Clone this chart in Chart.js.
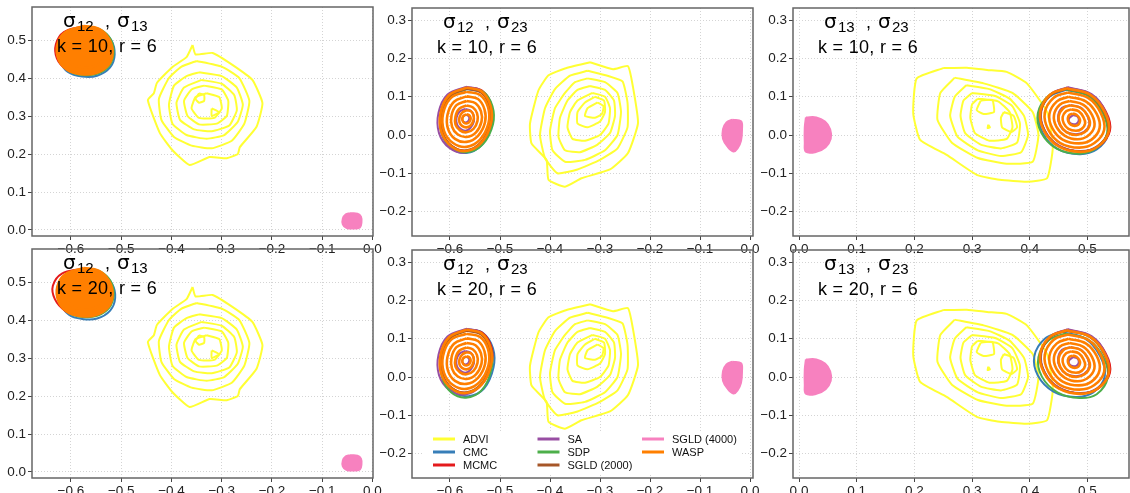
<!DOCTYPE html>
<html>
<head>
<meta charset="utf-8">
<script src="https://cdn.jsdelivr.net/npm/chart.js@4.4.1/dist/chart.umd.min.js"></script>
<style>
  html, body { margin: 0; padding: 0; background: #fff; width: 1130px; height: 493px; overflow: hidden; }
  canvas { position: absolute; }
</style>
</head>
<body>
<canvas id="p0"></canvas>
<canvas id="p1"></canvas>
<canvas id="p2"></canvas>
<canvas id="p3"></canvas>
<canvas id="p4"></canvas>
<canvas id="p5"></canvas>
<script>
// series (draw order: ADVI first, WASP on top)
const methods = ['ADVI', 'CMC', 'MCMC', 'SA', 'SDP', 'SGLD (2000)', 'SGLD (4000)', 'WASP'];
const methodColors = ['#FFFF33', '#377EB8', '#E41A1C', '#984EA3', '#4DAF4A', '#A65628', '#F781BF', '#FF7F00'];

const pairLabels = [['12', '13'], ['12', '23'], ['13', '23']];
const kValues = [10, 20];
const rValue = 6;

// axis ranges per column
const xRanges = [[-0.6775, 0.001], [-0.676, 0.006], [-0.0104, 0.572]];
const yRanges = [[-0.0158, 0.587], [-0.264, 0.332], [-0.264, 0.332]];

// ---------- sigma12 , sigma13 ----------
const advi1213 = [
  [[-0.358,0.487],[-0.352,0.462],[-0.318,0.466],[-0.278,0.434],[-0.239,0.395],[-0.219,0.334],[-0.231,0.271],[-0.264,0.218],[-0.268,0.2],[-0.29,0.189],[-0.324,0.192],[-0.364,0.171],[-0.398,0.21],[-0.423,0.255],[-0.447,0.342],[-0.435,0.36],[-0.429,0.387],[-0.398,0.429],[-0.37,0.455]],
  [[-0.35,0.445],[-0.3,0.43],[-0.265,0.4],[-0.245,0.34],[-0.255,0.28],[-0.28,0.235],[-0.32,0.215],[-0.36,0.222],[-0.395,0.245],[-0.42,0.29],[-0.425,0.345],[-0.405,0.4],[-0.38,0.43]],
  [[-0.345,0.415],[-0.3,0.405],[-0.27,0.375],[-0.258,0.33],[-0.268,0.285],[-0.295,0.25],[-0.33,0.24],[-0.37,0.25],[-0.398,0.28],[-0.405,0.33],[-0.395,0.38],[-0.37,0.405]],
  [[-0.34,0.395],[-0.3,0.385],[-0.275,0.355],[-0.27,0.315],[-0.285,0.275],[-0.32,0.26],[-0.355,0.265],[-0.383,0.29],[-0.39,0.335],[-0.375,0.375]],
  [[-0.335,0.38],[-0.3,0.37],[-0.287,0.34],[-0.29,0.3],[-0.31,0.28],[-0.345,0.278],[-0.368,0.3],[-0.375,0.34],[-0.36,0.37]],
  [[-0.33,0.36],[-0.305,0.35],[-0.3,0.32],[-0.315,0.295],[-0.345,0.295],[-0.36,0.32],[-0.352,0.35]],
  [[-0.345,0.36],[-0.335,0.355],[-0.335,0.34],[-0.345,0.335],[-0.352,0.345]],
  [[-0.32,0.32],[-0.305,0.31],[-0.32,0.3]]
];
const cmc1213 = [[[-0.572,0.532],[-0.542,0.526],[-0.52,0.5],[-0.513,0.462],[-0.522,0.428],[-0.548,0.406],[-0.578,0.404],[-0.606,0.416],[-0.622,0.446],[-0.624,0.485],[-0.609,0.516]]];
const cmc1213b = [[[-0.57,0.53],[-0.54,0.524],[-0.518,0.495],[-0.512,0.458],[-0.522,0.425],[-0.548,0.404],[-0.578,0.403],[-0.604,0.414],[-0.62,0.444],[-0.622,0.482],[-0.607,0.514]]];
const mcmc1213 = [[[-0.576,0.536],[-0.547,0.529],[-0.526,0.503],[-0.519,0.468],[-0.527,0.434],[-0.552,0.413],[-0.582,0.411],[-0.61,0.424],[-0.628,0.452],[-0.63,0.489],[-0.614,0.521]]];
const mcmc1213b = [[[-0.578,0.535],[-0.55,0.53],[-0.528,0.505],[-0.52,0.47],[-0.528,0.437],[-0.553,0.415],[-0.583,0.412],[-0.612,0.425],[-0.632,0.455],[-0.636,0.49],[-0.618,0.522]]];
const sa1213 = [
  [[-0.574,0.534],[-0.546,0.528],[-0.527,0.503],[-0.52,0.47],[-0.527,0.437],[-0.55,0.416],[-0.578,0.413],[-0.605,0.424],[-0.622,0.451],[-0.624,0.487],[-0.61,0.518]],
  [[-0.573,0.488],[-0.566,0.484],[-0.567,0.476],[-0.574,0.474],[-0.579,0.48]]
];
const sdp1213 = [[[-0.571,0.534],[-0.542,0.528],[-0.521,0.502],[-0.515,0.466],[-0.524,0.432],[-0.548,0.411],[-0.576,0.408],[-0.604,0.419],[-0.621,0.448],[-0.623,0.486],[-0.609,0.518]]];
const sgld2k1213 = [[[-0.575,0.535],[-0.546,0.528],[-0.526,0.504],[-0.518,0.47],[-0.526,0.436],[-0.55,0.414],[-0.579,0.411],[-0.607,0.423],[-0.623,0.451],[-0.625,0.487],[-0.611,0.518]]];
const sgld4k1213 = [[[-0.045,0.044],[-0.03,0.043],[-0.023,0.035],[-0.022,0.02],[-0.025,0.007],[-0.038,0.004],[-0.052,0.006],[-0.059,0.015],[-0.059,0.03],[-0.053,0.041]]];
const wasp1213 = [
  [[-0.575,0.537],[-0.545,0.53],[-0.525,0.505],[-0.517,0.47],[-0.525,0.435],[-0.55,0.413],[-0.58,0.41],[-0.608,0.422],[-0.625,0.45],[-0.627,0.488],[-0.612,0.52]],
  [[-0.574,0.518],[-0.55,0.512],[-0.536,0.492],[-0.532,0.468],[-0.538,0.444],[-0.556,0.43],[-0.578,0.428],[-0.598,0.437],[-0.61,0.458],[-0.611,0.484],[-0.6,0.506]]
];

// ---------- sigma12 , sigma23 ----------
const advi1223 = [
  [[-0.32,0.19],[-0.274,0.172],[-0.244,0.18],[-0.234,0.125],[-0.224,0.031],[-0.244,-0.047],[-0.28,-0.09],[-0.337,-0.113],[-0.37,-0.135],[-0.403,-0.117],[-0.407,-0.065],[-0.437,-0.022],[-0.44,0.03],[-0.423,0.117],[-0.403,0.156],[-0.37,0.174]],
  [[-0.325,0.168],[-0.285,0.155],[-0.255,0.14],[-0.245,0.085],[-0.245,0.02],[-0.265,-0.035],[-0.3,-0.065],[-0.345,-0.09],[-0.385,-0.1],[-0.41,-0.06],[-0.42,0.0],[-0.41,0.07],[-0.39,0.12],[-0.36,0.155]],
  [[-0.325,0.148],[-0.29,0.138],[-0.265,0.11],[-0.258,0.06],[-0.265,0.0],[-0.29,-0.04],[-0.33,-0.065],[-0.37,-0.07],[-0.395,-0.04],[-0.4,0.01],[-0.39,0.07],[-0.37,0.11],[-0.35,0.138]],
  [[-0.32,0.128],[-0.29,0.118],[-0.272,0.09],[-0.27,0.05],[-0.28,0.005],[-0.305,-0.025],[-0.34,-0.045],[-0.37,-0.04],[-0.383,-0.005],[-0.38,0.045],[-0.365,0.09],[-0.345,0.118]],
  [[-0.315,0.11],[-0.29,0.1],[-0.28,0.07],[-0.283,0.03],[-0.3,0.0],[-0.33,-0.015],[-0.355,-0.01],[-0.365,0.02],[-0.36,0.06],[-0.345,0.09]],
  [[-0.31,0.1],[-0.292,0.09],[-0.29,0.06],[-0.3,0.035],[-0.325,0.02],[-0.345,0.03],[-0.345,0.06],[-0.33,0.085]],
  [[-0.305,0.085],[-0.293,0.075],[-0.296,0.055],[-0.31,0.045],[-0.33,0.05],[-0.325,0.07]]
];
const cmc1223 = [[[-0.566,0.12],[-0.536,0.11],[-0.518,0.072],[-0.517,0.024],[-0.537,-0.027],[-0.568,-0.047],[-0.598,-0.034],[-0.617,0.004],[-0.618,0.054],[-0.601,0.1]]];
const cmc1223b = [[[-0.565,0.125],[-0.534,0.115],[-0.514,0.075],[-0.513,0.025],[-0.532,-0.03],[-0.563,-0.05],[-0.594,-0.038],[-0.613,0.002],[-0.616,0.054],[-0.6,0.104]]];
const mcmc1223 = [[[-0.566,0.125],[-0.536,0.116],[-0.517,0.078],[-0.517,0.031],[-0.536,-0.019],[-0.566,-0.041],[-0.596,-0.029],[-0.616,0.008],[-0.618,0.058],[-0.601,0.105]]];
const sa1223 = [
  [[-0.568,0.126],[-0.54,0.117],[-0.522,0.08],[-0.521,0.03],[-0.54,-0.024],[-0.57,-0.046],[-0.601,-0.034],[-0.622,0.005],[-0.623,0.058],[-0.605,0.106]],
  [[-0.569,0.068],[-0.559,0.064],[-0.553,0.052],[-0.552,0.036],[-0.559,0.019],[-0.569,0.011],[-0.579,0.016],[-0.586,0.028],[-0.587,0.045],[-0.581,0.061]],
  [[-0.568,0.053],[-0.562,0.048],[-0.563,0.037],[-0.569,0.033],[-0.575,0.038],[-0.574,0.048]]
];
const sdp1223 = [[[-0.564,0.122],[-0.533,0.112],[-0.515,0.075],[-0.514,0.028],[-0.534,-0.024],[-0.565,-0.045],[-0.595,-0.032],[-0.615,0.006],[-0.616,0.056],[-0.599,0.102]]];
const sdp1223b = [[[-0.567,0.122],[-0.537,0.112],[-0.518,0.072],[-0.517,0.02],[-0.537,-0.035],[-0.568,-0.054],[-0.598,-0.04],[-0.616,0.0],[-0.618,0.052],[-0.601,0.1]]];
const sgld2k1223 = [[[-0.567,0.121],[-0.538,0.111],[-0.521,0.075],[-0.52,0.029],[-0.538,-0.019],[-0.567,-0.04],[-0.596,-0.029],[-0.615,0.007],[-0.617,0.056],[-0.6,0.102]]];
const sgld4k1223 = [[[-0.035,0.04],[-0.018,0.036],[-0.016,0.015],[-0.018,-0.015],[-0.025,-0.035],[-0.033,-0.043],[-0.045,-0.03],[-0.054,-0.01],[-0.054,0.015],[-0.047,0.033]]];
const wasp1223 = [
  [[-0.567,0.124],[-0.537,0.114],[-0.519,0.077],[-0.518,0.03],[-0.537,-0.02],[-0.567,-0.042],[-0.597,-0.03],[-0.617,0.007],[-0.619,0.057],[-0.602,0.104]],
  [[-0.567,0.113],[-0.54,0.105],[-0.524,0.073],[-0.523,0.031],[-0.54,-0.012],[-0.567,-0.031],[-0.594,-0.021],[-0.612,0.011],[-0.614,0.055],[-0.598,0.097]],
  [[-0.567,0.101],[-0.544,0.094],[-0.531,0.067],[-0.53,0.033],[-0.544,-0.002],[-0.567,-0.018],[-0.59,-0.01],[-0.604,0.016],[-0.605,0.053],[-0.592,0.087]],
  [[-0.567,0.089],[-0.549,0.083],[-0.538,0.062],[-0.537,0.035],[-0.548,0.007],[-0.567,-0.005],[-0.585,0.002],[-0.596,0.022],[-0.597,0.051],[-0.587,0.078]],
  [[-0.567,0.077],[-0.554,0.072],[-0.546,0.057],[-0.545,0.037],[-0.553,0.016],[-0.567,0.007],[-0.58,0.012],[-0.589,0.027],[-0.589,0.048],[-0.582,0.068]],
  [[-0.567,0.065],[-0.558,0.062],[-0.553,0.052],[-0.553,0.039],[-0.558,0.026],[-0.567,0.02],[-0.576,0.024],[-0.581,0.033],[-0.581,0.046],[-0.576,0.058]],
  [[-0.567,0.054],[-0.562,0.052],[-0.559,0.046],[-0.559,0.04],[-0.562,0.033],[-0.567,0.03],[-0.572,0.032],[-0.575,0.038],[-0.575,0.045],[-0.572,0.051]]
];

// ---------- sigma13 , sigma23 ----------
const advi1323 = [
  [[0.25,0.175],[0.291,0.176],[0.326,0.17],[0.36,0.165],[0.395,0.135],[0.43,0.06],[0.44,-0.03],[0.43,-0.113],[0.395,-0.122],[0.348,-0.117],[0.308,-0.104],[0.256,-0.052],[0.21,-0.013],[0.198,0.057],[0.204,0.148]],
  [[0.27,0.15],[0.32,0.135],[0.37,0.11],[0.405,0.06],[0.415,0.0],[0.405,-0.07],[0.36,-0.075],[0.31,-0.06],[0.265,-0.02],[0.24,0.04],[0.245,0.11]],
  [[0.29,0.13],[0.33,0.12],[0.365,0.095],[0.39,0.05],[0.397,0.0],[0.385,-0.045],[0.35,-0.055],[0.31,-0.04],[0.275,-0.005],[0.262,0.05],[0.27,0.1]],
  [[0.3,0.11],[0.34,0.102],[0.37,0.075],[0.383,0.03],[0.378,-0.02],[0.35,-0.035],[0.315,-0.025],[0.288,0.005],[0.28,0.05],[0.285,0.09]],
  [[0.31,0.095],[0.345,0.088],[0.365,0.06],[0.37,0.02],[0.36,-0.01],[0.33,-0.015],[0.305,0.005],[0.297,0.045],[0.3,0.08]],
  [[0.315,0.09],[0.335,0.092],[0.338,0.06],[0.32,0.055],[0.308,0.065]],
  [[0.355,0.06],[0.372,0.05],[0.378,0.02],[0.368,0.008],[0.352,0.02],[0.35,0.045]],
  [[0.328,0.027],[0.331,0.02],[0.327,0.018]]
];
const cmc1323 = [[[0.463,0.118],[0.504,0.1],[0.529,0.054],[0.536,0.003],[0.516,-0.038],[0.486,-0.05],[0.448,-0.036],[0.423,0.004],[0.416,0.055],[0.434,0.1]]];
const cmc1323b = [[[0.455,0.118],[0.496,0.1],[0.522,0.054],[0.53,0.002],[0.51,-0.04],[0.479,-0.052],[0.441,-0.038],[0.414,0.004],[0.408,0.055],[0.426,0.1]]];
const mcmc1323 = [[[0.465,0.124],[0.506,0.106],[0.532,0.061],[0.539,0.011],[0.519,-0.03],[0.489,-0.043],[0.451,-0.029],[0.426,0.011],[0.419,0.061],[0.436,0.106]]];
const sa1323 = [
  [[0.466,0.125],[0.507,0.107],[0.531,0.061],[0.537,0.011],[0.518,-0.028],[0.488,-0.042],[0.451,-0.028],[0.426,0.012],[0.42,0.062],[0.437,0.107]],
  [[0.471,0.078],[0.489,0.071],[0.5,0.049],[0.503,0.026],[0.494,0.008],[0.48,0.002],[0.463,0.008],[0.452,0.026],[0.449,0.049],[0.456,0.071]],
  [[0.475,0.052],[0.482,0.049],[0.485,0.04],[0.482,0.031],[0.476,0.028],[0.469,0.033],[0.468,0.043]]
];
const sdp1323 = [[[0.461,0.12],[0.502,0.102],[0.527,0.056],[0.534,0.005],[0.514,-0.036],[0.484,-0.049],[0.446,-0.035],[0.42,0.006],[0.414,0.057],[0.432,0.102]]];
const sdp1323b = [[[0.462,0.114],[0.503,0.096],[0.528,0.05],[0.535,-0.002],[0.516,-0.045],[0.486,-0.055],[0.448,-0.04],[0.421,0.001],[0.415,0.052],[0.433,0.096]]];
const sgld2k1323 = [[[0.464,0.121],[0.504,0.104],[0.529,0.059],[0.536,0.009],[0.517,-0.03],[0.488,-0.043],[0.45,-0.029],[0.426,0.01],[0.419,0.059],[0.436,0.104]]];
const sgld4k1323 = [[[0.012,0.046],[0.03,0.046],[0.045,0.035],[0.054,0.015],[0.055,-0.01],[0.046,-0.032],[0.03,-0.044],[0.012,-0.044],[0.01,-0.02],[0.01,0.02]]];
const wasp1323 = [
  [[0.464,0.122],[0.505,0.105],[0.53,0.06],[0.537,0.01],[0.518,-0.03],[0.488,-0.044],[0.45,-0.03],[0.425,0.01],[0.418,0.06],[0.435,0.105]],
  [[0.466,0.111],[0.501,0.097],[0.523,0.058],[0.529,0.014],[0.512,-0.021],[0.486,-0.033],[0.453,-0.021],[0.432,0.014],[0.426,0.058],[0.441,0.097]],
  [[0.467,0.1],[0.497,0.088],[0.516,0.055],[0.521,0.018],[0.507,-0.012],[0.485,-0.022],[0.457,-0.012],[0.439,0.018],[0.434,0.055],[0.447,0.088]],
  [[0.469,0.089],[0.493,0.079],[0.508,0.052],[0.512,0.022],[0.501,-0.002],[0.483,-0.011],[0.461,-0.002],[0.446,0.022],[0.442,0.052],[0.452,0.079]],
  [[0.471,0.078],[0.489,0.07],[0.501,0.049],[0.504,0.026],[0.495,0.007],[0.481,0.0],[0.464,0.007],[0.453,0.026],[0.45,0.049],[0.458,0.07]],
  [[0.472,0.067],[0.485,0.062],[0.493,0.047],[0.496,0.03],[0.49,0.016],[0.48,0.011],[0.467,0.016],[0.459,0.03],[0.457,0.047],[0.463,0.062]],
  [[0.474,0.056],[0.481,0.053],[0.486,0.044],[0.487,0.035],[0.484,0.027],[0.478,0.024],[0.471,0.027],[0.467,0.035],[0.466,0.044],[0.469,0.053]]
];

// contour sets per panel, in the order of `methods`
const panelSeries = [
  [advi1213, cmc1213, mcmc1213, sa1213, sdp1213, sgld2k1213, sgld4k1213, wasp1213],
  [advi1223, cmc1223, mcmc1223, sa1223, sdp1223, sgld2k1223, sgld4k1223, wasp1223],
  [advi1323, cmc1323, mcmc1323, sa1323, sdp1323, sgld2k1323, sgld4k1323, wasp1323],
  [advi1213, cmc1213b, mcmc1213b, sa1213, sdp1213, sgld2k1213, sgld4k1213, wasp1213],
  [advi1223, cmc1223b, mcmc1223, sa1223, sdp1223b, sgld2k1223, sgld4k1223, wasp1223],
  [advi1323, cmc1323b, mcmc1323, sa1323, sdp1323b, sgld2k1323, sgld4k1323, wasp1323]
];

// layout: plot area of each panel in page pixels [left, top, right, bottom]
const panelAreas = [[32,7,373,236],[412,8,753,236],[793,8,1129,236],[32,249,373,478],[412,250,753,478],[793,250,1129,478]];
const Y_AXIS_W = 32, X_AXIS_H = 18, PAD_TOP = 2, PAD_RIGHT = 10;

Chart.defaults.font.family = '"Liberation Sans", Arial, sans-serif';
Chart.defaults.font.size = 13.5;
Chart.defaults.color = '#222';

function fmt(v) {
  const s = Math.abs(v).toFixed(1);
  return v < -1e-9 ? '\u2212' + s : s;
}

function ringDataset(ring, color, width, filled, tension, order) {
  const pts = ring.map(p => ({x: p[0], y: p[1]}));
  pts.push(pts[0]);
  return {
    data: pts,
    showLine: true,
    borderColor: color,
    backgroundColor: color,
    borderWidth: width,
    pointRadius: 0,
    tension: tension,
    fill: filled ? 'shape' : false,
    order: order
  };
}

const panelDeco = {
  id: 'panelDeco',
  afterDraw(chart, args, opts) {
    const {ctx, chartArea: a} = chart;
    ctx.save();
    // frame
    ctx.strokeStyle = '#666';
    ctx.lineWidth = 1.5;
    ctx.strokeRect(a.left, a.top, a.right - a.left, a.bottom - a.top);

    // title: sigma pair
    ctx.fillStyle = '#000';
    ctx.textBaseline = 'alphabetic';
    ctx.textAlign = 'left';
    ctx.font = '20px "DejaVu Sans"';
    ctx.fillText('\u03C3', a.left + 31, a.top + 20);
    ctx.fillText('\u03C3', a.left + 85, a.top + 20);
    ctx.font = '15px "Liberation Sans"';
    ctx.fillText(opts.pair[0], a.left + 45, a.top + 24);
    ctx.fillText(opts.pair[1], a.left + 99, a.top + 24);
    ctx.font = '18px "Liberation Sans"';
    ctx.fillText(',', a.left + 73, a.top + 20);
    ctx.letterSpacing = '0.3px';
    ctx.fillText('k = ' + opts.k + ', r = ' + rValue, a.left + 25, a.top + 45);
    ctx.letterSpacing = '0px';

    if (opts.legend) {
      ctx.fillStyle = '#fff';
      ctx.fillRect(a.left + 12, a.top + 181, 318, 42);
      ctx.font = '11px "Liberation Sans"';
      ctx.textBaseline = 'middle';
      methods.forEach((m, i) => {
        const col = Math.floor(i / 3), row = i % 3;
        const x = a.left + 21 + col * 104.5;
        const y = a.top + 189 + row * 13;
        ctx.strokeStyle = methodColors[i];
        ctx.lineWidth = 3;
        ctx.beginPath();
        ctx.moveTo(x, y);
        ctx.lineTo(x + 22, y);
        ctx.stroke();
        ctx.fillStyle = '#111';
        ctx.fillText(m, x + 30, y + 1);
      });
    }
    ctx.restore();
  }
};

function makePanel(idx) {
  const col = idx % 3, row = Math.floor(idx / 3);
  const [L, T, R, B] = panelAreas[idx];
  const canvas = document.getElementById('p' + idx);
  canvas.width = (R - L) + Y_AXIS_W + PAD_RIGHT;
  canvas.height = (B - T) + PAD_TOP + X_AXIS_H;
  canvas.style.left = (L - Y_AXIS_W) + 'px';
  canvas.style.top = (T - PAD_TOP) + 'px';

  const datasets = [];
  let order = 0;
  panelSeries[idx].forEach((rings, m) => {
    rings.forEach((ring, r) => {
      const name = methods[m];
      const isPink = name === 'SGLD (4000)';
      const solidWasp = name === 'WASP' && col === 0 && r === 0;
      const width = name === 'WASP' ? 2.6 : 2;
      const tension = name === 'ADVI' ? 0.15 : 0.4;
      order -= 1;
      datasets.push(ringDataset(ring, methodColors[m], width, isPink || solidWasp, tension, order));
    });
  });

  const zeroPad = s => { s.paddingLeft = 0; s.paddingRight = 0; s.paddingTop = 0; s.paddingBottom = 0; };

  new Chart(canvas, {
    type: 'scatter',
    data: { datasets },
    options: {
      responsive: false,
      animation: false,
      events: [],
      layout: { padding: { top: PAD_TOP, right: PAD_RIGHT, left: 0, bottom: 0 } },
      plugins: {
        legend: { display: false },
        tooltip: { enabled: false },
        panelDeco: { pair: pairLabels[col], k: kValues[row], legend: idx === 4 }
      },
      scales: {
        x: {
          type: 'linear',
          min: xRanges[col][0],
          max: xRanges[col][1],
          afterFit: s => { s.height = X_AXIS_H; zeroPad(s); },
          ticks: { stepSize: 0.1, includeBounds: false, autoSkip: false, maxRotation: 0, padding: 1, callback: fmt },
          grid: { color: '#d4d4d4', lineWidth: 1, tickColor: '#444', tickLength: 4, tickWidth: 1 },
          border: { display: false, dash: [1, 2] }
        },
        y: {
          type: 'linear',
          min: yRanges[col][0],
          max: yRanges[col][1],
          afterFit: s => { s.width = Y_AXIS_W; zeroPad(s); },
          ticks: { stepSize: 0.1, includeBounds: false, autoSkip: false, padding: 2, callback: fmt },
          grid: { color: '#d4d4d4', lineWidth: 1, tickColor: '#444', tickLength: 4, tickWidth: 1 },
          border: { display: false, dash: [1, 2] }
        }
      }
    },
    plugins: [panelDeco]
  });
}

for (let i = 0; i < 6; i++) makePanel(i);
</script>
</body>
</html>
